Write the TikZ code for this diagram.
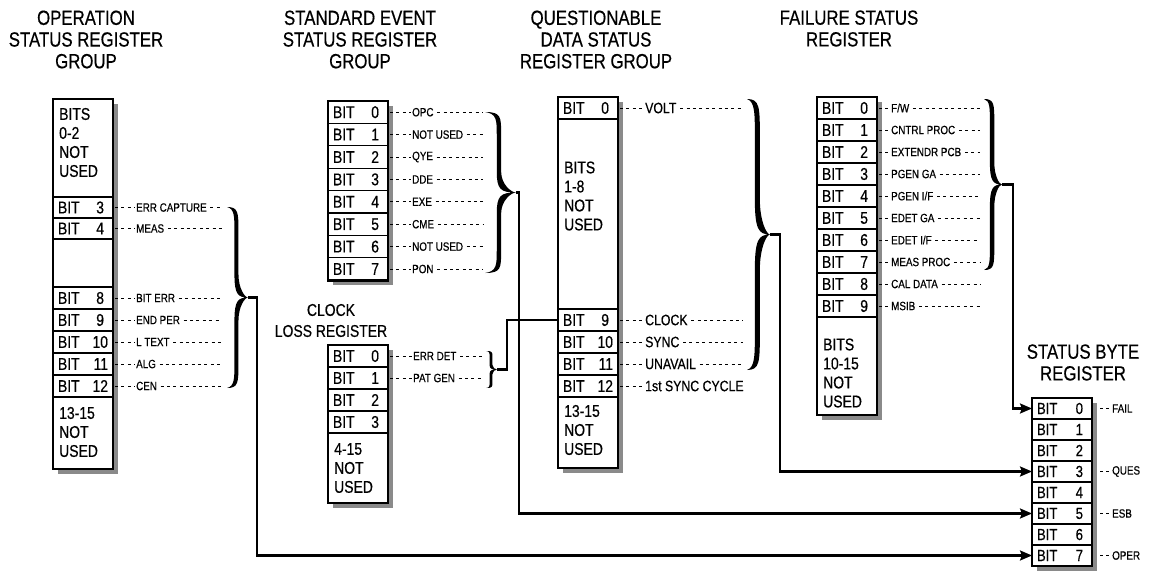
\documentclass[tikz,border=0pt]{standalone}
\usepackage{fontspec}
\setmainfont{Liberation Sans}[FakeStretch=0.82,FakeBold=0.5]
\usetikzlibrary{arrows.meta,calc,positioning,backgrounds}
\definecolor{RegShadow}{HTML}{8A8A8A}
\newcommand{\bitno}[1]{\makebox[50pt]{BIT\hfill#1\ifnum#1<10\hspace{4pt}\fi}}
\newcommand{\regbox}[2]{%
  \draw[regframe] (#1.north west) rectangle (#2.south east);
  \begin{scope}[on background layer]
    \fill[RegShadow] ($(#1.north west)+(5,5)$) rectangle ($(#2.south east)+(5,5)$);
  \end{scope}}
% name, left x, top, bottom, width, stem
\newcommand{\regbrace}[6]{%
  \pgfmathsetmacro\rbH{#4-#3}
  \pgfmathsetmacro\rbM{(#3+#4)/2}
  \pgfmathsetmacro\rbE{#2+0.45*#5+#6/2}
  \pgfmathsetmacro\rbW{#2+0.45*#5-#6/2}
  \pgfmathsetmacro\rbT{#2+#5}
  \fill (#2,#3) .. controls (\rbE,#3) and (\rbE,#3+0.03*\rbH) .. (\rbE,#3+0.14*\rbH)
    -- (\rbE,\rbM-0.13*\rbH) .. controls (\rbE,\rbM-0.05*\rbH) and (\rbT-0.15*#5,\rbM) .. (\rbT,\rbM)
    .. controls (\rbT-0.15*#5,\rbM) and (\rbE,\rbM+0.05*\rbH) .. (\rbE,\rbM+0.13*\rbH)
    -- (\rbE,#4-0.14*\rbH) .. controls (\rbE,#4-0.03*\rbH) and (\rbE,#4) .. (#2,#4)
    .. controls (\rbW,#4-0.01*\rbH) and (\rbW,#4-0.05*\rbH) .. (\rbW,#4-0.14*\rbH)
    -- (\rbW,\rbM+0.13*\rbH) .. controls (\rbW,\rbM+0.02*\rbH) and (\rbT-0.5*#5,\rbM) .. (\rbT,\rbM)
    .. controls (\rbT-0.5*#5,\rbM) and (\rbW,\rbM-0.02*\rbH) .. (\rbW,\rbM-0.13*\rbH)
    -- (\rbW,#3+0.14*\rbH) .. controls (\rbW,#3+0.05*\rbH) and (\rbW,#3+0.01*\rbH) .. (#2,#3) -- cycle;
  \coordinate (#1) at (\rbT,\rbM);}

\begin{document}
\begin{tikzpicture}[x=1pt,y=-1pt,
  regtitle/.style={align=center,inner sep=0pt,font=\fontsize{20.5}{21.7}\selectfont},
  subtitle/.style={align=center,inner sep=0pt,font=\fontsize{17}{21}\selectfont},
  bitcell/.style={draw,fill=white,line width=1.2pt,outer sep=0pt,anchor=north west,
    minimum width=60pt,inner xsep=5pt,inner ysep=0pt,minimum height=#1,
    font=\fontsize{17}{19}\selectfont},
  bitcell/.default=22pt,
  blocknote/.style={align=left,inner sep=0pt,anchor=west,font=\fontsize{17}{19}\selectfont},
  regframe/.style={line width=2.8pt},
  leader/.style={line width=1pt,dash pattern=on 3pt off 3.4pt,shorten <=2pt},
  lbl/.style={inner sep=1.5pt,font=\fontsize{12}{14}\selectfont},
  biglbl/.style={inner sep=1.5pt,font=\fontsize{15}{17}\selectfont},
  busline/.style={line width=2.2pt,-{Stealth[length=12pt,width=10pt,inset=2pt]}},
  linkline/.style={line width=2.2pt}]
  \useasboundingbox (0,0) rectangle (1152,571);

  % operation status register group
  \node[regtitle] (opTitle) at (86,39.5) {OPERATION\\STATUS REGISTER\\GROUP};
  \node[bitcell=98pt] (op0) at (53,99) {};
  \node[blocknote] (opTop) at (59,142.5) {BITS\\0-2\\NOT\\USED};
  \node[bitcell=21pt] (op3) at (53,197) {\bitno{3}};
  \node[bitcell=21pt] (op4) at (53,218) {\bitno{4}};
  \node[bitcell=48pt] (opGap) at (53,239) {};
  \foreach \n [count=\k from 0] in {8,...,12}
    \node[bitcell] (op\n) at (53,{287+22*\k}) {\bitno{\n}};
  \node[bitcell=72pt] (opN) at (53,397) {};
  \node[blocknote] (opBot) at (59,432) {13-15\\NOT\\USED};
  \regbox{op0}{opN}
  \coordinate (opEnd) at (222,0);
  \foreach \n/\t in {3/ERR CAPTURE,4/MEAS,8/BIT ERR,9/END PER,10/L TEXT,11/ALG,12/CEN}{
    \node[lbl,right=21.5pt of op\n] (opL\n) {\t};
    \draw[leader] (op\n.east) -- (opL\n.west);
    \draw[leader] (opL\n.east) -- (opL\n.east -| opEnd);
  }
  \regbrace{opTip}{227}{207}{388}{21}{4}

  % standard event status register group
  \node[regtitle] (seTitle) at (360,39.5) {STANDARD EVENT\\STATUS REGISTER\\GROUP};
  \foreach \n in {0,...,7}
    \node[bitcell=22.4pt] (se\n) at (328,{101+22.4*\n}) {\bitno{\n}};
  \regbox{se0}{se7}
  \coordinate (seEnd) at (483,0);
  \foreach \n/\t in {0/OPC,1/NOT USED,2/QYE,3/DDE,4/EXE,5/CME,6/NOT USED,7/PON}{
    \node[lbl,right=22.5pt of se\n] (seL\n) {\t};
    \draw[leader] (se\n.east) -- (seL\n.west);
    \draw[leader] (seL\n.east) -- (seL\n.east -| seEnd);
  }
  \regbrace{seTip}{485}{112}{273}{31}{4.4}

  % clock loss register
  \node[subtitle] (ckTitle) at (331,320.5) {CLOCK\\LOSS REGISTER};
  \foreach \n in {0,...,3}
    \node[bitcell] (ck\n) at (328,{345+22*\n}) {\bitno{\n}};
  \node[bitcell=70pt] (ckN) at (328,433) {};
  \node[blocknote] (ckBot) at (334,468) {4-15\\NOT\\USED};
  \regbox{ck0}{ckN}
  \coordinate (ckEnd) at (482,0);
  \foreach \n/\t in {0/ERR DET,1/PAT GEN}{
    \node[lbl,right=23.5pt of ck\n] (ckL\n) {\t};
    \draw[leader] (ck\n.east) -- (ckL\n.west);
    \draw[leader] (ckL\n.east) -- (ckL\n.east -| ckEnd);
  }
  \regbrace{ckTip}{486}{351}{388}{11}{2.8}

  % questionable data status register group
  \node[regtitle] (qdTitle) at (596,39.5) {QUESTIONABLE\\DATA STATUS\\REGISTER GROUP};
  \node[bitcell] (qd0) at (558,97) {\bitno{0}};
  \node[bitcell=190pt] (qdB) at (558,119) {};
  \node[blocknote] (qdMid) at (564,196) {BITS\\1-8\\NOT\\USED};
  \foreach \n [count=\k from 0] in {9,...,12}
    \node[bitcell] (qd\n) at (558,{309+22*\k}) {\bitno{\n}};
  \node[bitcell=71pt] (qdN) at (558,397) {};
  \node[blocknote] (qdBot) at (564,430) {13-15\\NOT\\USED};
  \regbox{qd0}{qdN}
  \coordinate (qdEnd) at (743,0);
  \foreach \n/\t in {0/VOLT,9/CLOCK,10/SYNC,11/UNAVAIL}{
    \node[biglbl,right=25.5pt of qd\n] (qdL\n) {\t};
    \draw[leader] (qd\n.east) -- (qdL\n.west);
    \draw[leader] (qdL\n.east) -- (qdL\n.east -| qdEnd);
  }
  \node[biglbl,right=25.5pt of qd12] (qdL12) {1st SYNC CYCLE};
  \draw[leader] (qd12.east) -- (qdL12.west);
  \regbrace{qdTip}{747}{99}{370}{23}{5}

  % failure status register
  \node[regtitle] (fsTitle) at (849,28.5) {FAILURE STATUS\\REGISTER};
  \foreach \n in {0,...,9}
    \node[bitcell] (fs\n) at (817,{97+22*\n}) {\bitno{\n}};
  \node[bitcell=98pt] (fsB) at (817,317) {};
  \node[blocknote] (fsBot) at (823,373) {BITS\\10-15\\NOT\\USED};
  \regbox{fs0}{fsB}
  \coordinate (fsEnd) at (980,0);
  \foreach \n/\t in {0/{F/W},1/CNTRL PROC,2/EXTENDR PCB,3/PGEN GA,4/{PGEN I/F},
      5/EDET GA,6/{EDET I/F},7/MEAS PROC,8/CAL DATA,9/MSIB}{
    \node[lbl,right=12.5pt of fs\n] (fsL\n) {\t};
    \draw[leader] (fs\n.east) -- (fsL\n.west);
    \draw[leader] (fsL\n.east) -- (fsL\n.east -| fsEnd);
  }
  \regbrace{fsTip}{984}{99}{270}{18}{4.4}

  % status byte register
  \node[regtitle] (sbTitle) at (1083,362.5) {STATUS BYTE\\REGISTER};
  \foreach \n in {0,...,7}
    \node[bitcell=21pt,font=\fontsize{16}{18}\selectfont] (sb\n) at (1032,{398+21*\n}) {\bitno{\n}};
  \regbox{sb0}{sb7}
  \foreach \n/\t in {0/FAIL,3/QUES,5/ESB,7/OPER}{
    \node[lbl,right=18.5pt of sb\n] (sbL\n) {\t};
    \draw[leader,shorten <=8pt] (sb\n.east) -- (sbL\n.west);
  }

  % summary lines
  \draw[busline] (fsTip) -- ++(11,0) |- (sb0.west);
  \draw[busline] (qdTip) -- ++(10,0) |- (sb3.west);
  \draw[busline] (seTip) -- ++(3,0) |- (sb5.west);
  \draw[busline] (opTip) -- ++(9,0) |- (sb7.west);
  \draw[linkline] (ckTip) -- ++(10,0) |- (qd9.west);
\end{tikzpicture}
\end{document}
